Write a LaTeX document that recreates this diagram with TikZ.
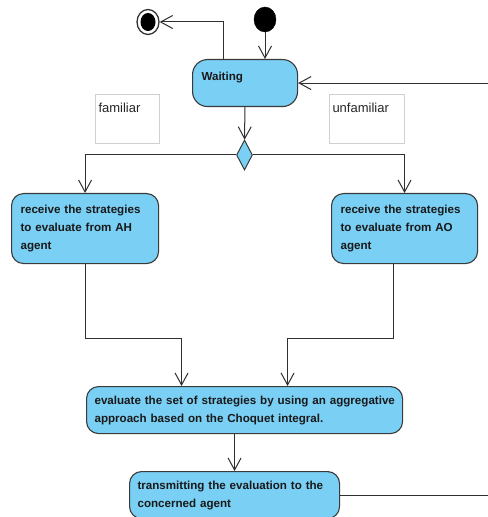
\documentclass[tikz,border=0pt]{standalone}
\usepackage{fontspec}
\setmainfont{Liberation Sans}
\usetikzlibrary{arrows.meta,shapes.geometric,calc}
\definecolor{actfill}{HTML}{7ACFF5}
\definecolor{actline}{HTML}{3A3A3A}
\definecolor{guardline}{HTML}{D0D0D0}
\definecolor{flowline}{HTML}{303030}
\tikzset{
    action/.style = {rectangle,
                    rounded corners=12bp,
                    fill=actfill,
                    draw=actline,
                    text=black!90,
                    line width=1.1bp,
                    anchor=north west,
                    align=left,
                    inner xsep=9bp,
                    font=\bfseries\fontsize{11.6bp}{18bp}\selectfont},
    guard/.style =  {rectangle,
                    draw=guardline,
                    text=black!85,
                    line width=1bp,
                    anchor=north west,
                    align=left,
                    inner xsep=3bp,
                    inner ysep=8bp,
                    text height=10bp,
                    text depth=23bp,
                    font=\fontsize{13bp}{15bp}\selectfont},
    decision/.style = {diamond,
                    fill=actfill,
                    draw=actline,
                    line width=1bp,
                    inner sep=0pt,
                    minimum width=16bp,
                    minimum height=30bp},
    initial/.style = {ellipse,
                    fill=black,
                    draw=black,
                    inner sep=0pt,
                    minimum width=22bp,
                    minimum height=25bp},
    final/.style =  {ellipse,
                    fill=white,
                    draw=black!80,
                    line width=1.3bp,
                    inner sep=0pt,
                    minimum width=22bp,
                    minimum height=25bp,
                    path picture={\fill[black] (path picture bounding box.center)
                        ellipse [x radius=7.5bp, y radius=9bp];}},
    -,
    flow/.style =   {draw=flowline, line width=1bp, ->},
    >={Straight Barb[length=12bp,width=13bp,line width=1bp]}}

\begin{document}
\begin{tikzpicture}[x=1bp,y=-1bp]
    \useasboundingbox (0,0) rectangle (488,517);
    \fill[white] (0,0) rectangle (488,517);
    \clip (0,0) rectangle (488,517);
                \node[initial]      (start) at (265,19.5)   {};
                \node[final]        (stop)  at (148,22)     {};
                \node[action, rounded corners=15bp, text width=87bp,
                      inner ysep=10bp, text height=11bp, text depth=16bp]
                                    (wait)  at (192,59)     {Waiting};
                \node[guard, text width=58bp]    (fam)   at (95,94)   {familiar};
                \node[guard, text width=69bp]    (unfam) at (329,94)  {unfamiliar};
                \node[decision]     (dec)   at (244.5,155)  {};
                \node[action, text width=129bp, minimum height=70bp]
                                    (ah)    at (11,193)     {receive the strategies\\to evaluate from AH\\agent};
                \node[action, text width=128bp, minimum height=70bp]
                                    (ao)    at (331,193)    {receive the strategies\\to evaluate from AO\\agent};
                \node[action, inner xsep=8bp, text width=300bp, minimum height=47bp]
                                    (eval)  at (86,386)     {\mbox{evaluate the set of strategies by using an aggregative}\\approach based on the Choquet integral.};
                \node[action, inner xsep=8bp, text width=194bp, minimum height=47bp]
                                    (trans) at (129,471)    {transmitting the evaluation to the\\concerned agent};
                \path [flow]    (start) edge (start |- wait.north)
                                (wait) edge (dec);
                \draw [flow]    ([xshift=-21.5bp]wait.north) |- (stop);
                \draw [flow]    (dec.west) -| (ah);
                \draw [flow]    (dec.east) -| (ao);
                \draw [flow]    (ah.south) -- ++(0,74) -| ([xshift=-63bp]eval.north);
                \draw [flow]    ([xshift=-11bp]ao.south) -- ++(0,74) -| ([xshift=43bp]eval.north);
                \draw [flow]    (eval.south -| trans.north) -- (trans.north);
                \draw [flow]    (trans.east) -- ++(200,0) |- (wait.east);
        \end{tikzpicture}
\end{document}
